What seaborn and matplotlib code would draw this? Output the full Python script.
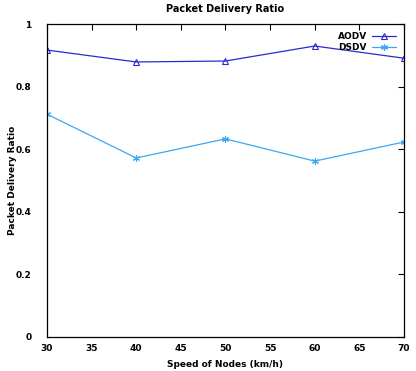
import matplotlib
matplotlib.use("Agg")
import matplotlib.pyplot as plt
import seaborn as sns
import pandas as pd

speeds = [30, 40, 50, 60, 70]
aodv = [0.917, 0.879, 0.882, 0.930, 0.891]
dsdv = [0.712, 0.572, 0.633, 0.562, 0.623]
xticks = [30, 35, 40, 45, 50, 55, 60, 65, 70]
yticks = [0, 0.2, 0.4, 0.6, 0.8, 1]
ytick_labels = ["0", "0.2", "0.4", "0.6", "0.8", "1"]

sns.set_theme(style="white")
plt.rcParams['font.family'] = ['DejaVu Sans']
plt.rcParams['text.color'] = 'black'
plt.rcParams['axes.labelcolor'] = 'black'
plt.rcParams['xtick.color'] = 'black'
plt.rcParams['ytick.color'] = 'black'

fig = plt.figure(figsize=(4.16, 3.71), dpi=100)
ax = fig.add_axes([0.113, 0.092, 0.858, 0.843])

sns.lineplot(x=speeds, y=aodv, ax=ax, color="#2a2ad0", label="AODV",
             marker="^", markersize=4.5, linewidth=0.9,
             markerfacecolor="none", markeredgecolor="#2a2ad0", markeredgewidth=0.8)
sns.lineplot(x=speeds, y=dsdv, ax=ax, color="#3aa8f0", label="DSDV",
             marker=(6, 2, 0), markersize=5, linewidth=0.9,
             markeredgecolor="#3aa8f0", markeredgewidth=0.8)

ax.set_xlim(30, 70)
ax.set_ylim(0, 1)
ax.set_xticks(xticks)
ax.set_xticklabels([str(t) for t in xticks])
ax.set_yticks(yticks)
ax.set_yticklabels(ytick_labels)
ax.tick_params(direction="in", top=True, right=True, length=4, width=0.8,
               labelsize=6.5)
ax.tick_params(axis="y", pad=11)
ax.tick_params(axis="x", pad=5)
for lab in ax.get_xticklabels() + ax.get_yticklabels():
    lab.set_fontweight("bold")
for s in ax.spines.values():
    s.set_color("black")
    s.set_linewidth(0.9)

ax.set_xlabel("Speed of Nodes (km/h)", fontsize=6.5, fontweight="bold", labelpad=5)
ax.set_ylabel("Packet Delivery Ratio", fontsize=6.5, fontweight="bold")
ax.yaxis.set_label_coords(-0.084, 0.5)
ax.set_title("Packet Delivery Ratio", fontsize=7, fontweight="bold", pad=9)

handles, labels = ax.get_legend_handles_labels()
leg = ax.legend(handles, labels, loc="upper right", frameon=False, markerfirst=False,
                fontsize=6.5, handlelength=2.6, borderaxespad=0.5, labelspacing=0.2,
                handletextpad=0.6)
for t in leg.get_texts():
    t.set_fontweight("bold")

fig.savefig("out.png", dpi=100)
